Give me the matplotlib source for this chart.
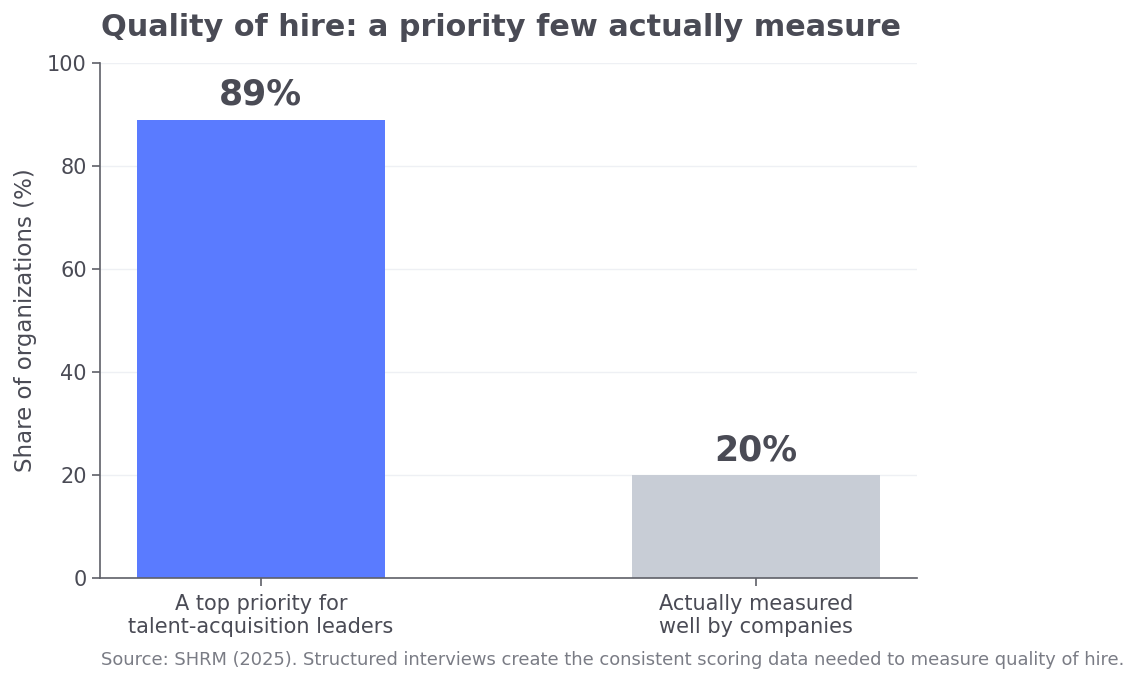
import matplotlib
matplotlib.use("Agg")
import matplotlib.pyplot as plt

# data
categories = ["A top priority for\ntalent-acquisition leaders",
              "Actually measured\nwell by companies"]
values = [89, 20]
bar_colors = ["#5a7bff", "#c8cdd6"]
y_ticks = [0, 20, 40, 60, 80, 100]

text_color = "#4a4b55"
spine_color = "#5f6068"

fig = plt.figure(figsize=(11.38, 6.85), dpi=100)
ax = fig.add_axes([100 / 1138, 1 - 578 / 685, 817 / 1138, 515 / 685])

x = range(len(categories))
bars = ax.bar(x, values, width=0.5, color=bar_colors, zorder=2)

for b, v in zip(bars, values):
    ax.text(b.get_x() + b.get_width() / 2, v + 1.5, f"{v}%",
            ha="center", va="bottom", fontsize=25, fontweight="bold",
            color=text_color)

ax.set_ylim(0, 100)
ax.set_yticks(y_ticks)
ax.set_xticks(list(x))
ax.set_xticklabels(categories)
ax.grid(axis="y", color="#eef0f4", linewidth=1, zorder=0)
ax.set_axisbelow(True)

for s in ["top", "right"]:
    ax.spines[s].set_visible(False)
for s in ["left", "bottom"]:
    ax.spines[s].set_color(spine_color)
    ax.spines[s].set_linewidth(1.2)

ax.tick_params(axis="both", colors=spine_color, labelcolor=text_color,
               labelsize=15, length=6, width=1.2)
ax.tick_params(axis="x", pad=5.5)
ax.set_ylabel("Share of organizations (%)", fontsize=16.5, color=text_color,
              labelpad=7)

fig.text(101 / 1138, 1 - 28 / 685, "Quality of hire: a priority few actually measure",
         fontsize=21.8, fontweight="bold", color=text_color, va="center", ha="left")
fig.text(101 / 1138, 1 - 660 / 685,
         "Source: SHRM (2025). Structured interviews create the consistent scoring data needed to measure quality of hire.",
         fontsize=12.9, color="#7a7c85", va="center", ha="left")

fig.savefig("out.png", dpi=100)
